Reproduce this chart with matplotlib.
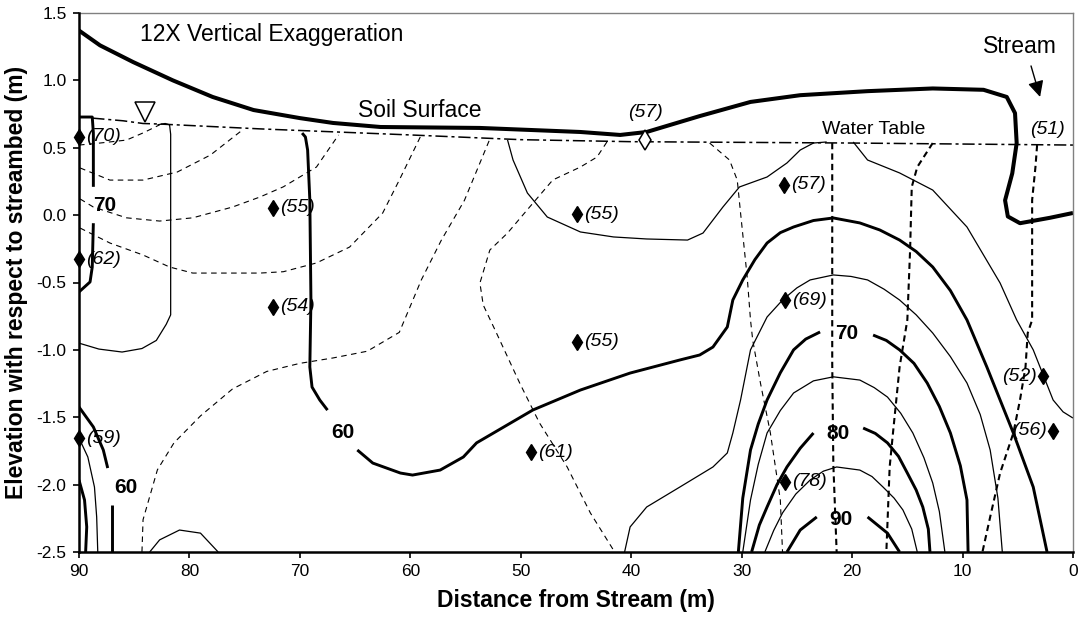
import matplotlib
matplotlib.use("Agg")
import matplotlib.pyplot as plt

plt.rcParams['font.family'] = ['Liberation Sans', 'DejaVu Sans']
plt.rcParams['axes.unicode_minus'] = False

# traced lines, (distance from stream m, elevation m)
soil_surface = [(90, 1.37), (88.1, 1.26), (85.1, 1.136), (81.5, 1.0), (77.9, 0.877),
                (74.2, 0.78), (70.0, 0.72), (67.0, 0.684), (62.7, 0.654), (53.7, 0.647),
                (44.6, 0.617), (41.0, 0.595), (38.6, 0.617), (37.1, 0.654), (33.8, 0.735),
                (29.2, 0.84), (24.7, 0.89), (18.6, 0.92), (12.7, 0.94), (8.1, 0.93),
                (6.0, 0.877), (5.25, 0.757), (5.1, 0.535), (5.5, 0.31), (6.15, 0.11),
                (5.9, -0.01), (4.8, -0.06), (2.1, -0.02), (0, 0.016)]
water_table = [(88.8, 0.72), (86.0, 0.70), (84.2, 0.68), (82.7, 0.676), (73.6, 0.64),
               (60.0, 0.595), (50.0, 0.56), (40.0, 0.545), (20.0, 0.535), (0, 0.52)]

# thick contours (60 / 70 / 80 / 90)
c70_left_top = [(90, 0.728), (88.8, 0.728), (88.7, 0.61), (88.7, 0.21)]
c70_left_bot = [(88.7, -0.06), (88.8, -0.385), (89.0, -0.496), (90, -0.57)]
c60_main_a = [(69.8, 0.609), (69.5, 0.58), (69.3, 0.483), (69.1, 0.112), (69.0, -0.63),
              (69.1, -1.127), (68.9, -1.276), (68.2, -1.372), (67.5, -1.447)]
c60_main_b = [(64.8, -1.743), (63.4, -1.84), (60.9, -1.914), (59.8, -1.929), (57.3, -1.892),
              (55.2, -1.795), (54.0, -1.69), (53.1, -1.647), (48.9, -1.446), (44.6, -1.298),
              (40.1, -1.172), (35.6, -1.075), (33.8, -1.038), (32.6, -0.979), (31.3, -0.83),
              (30.8, -0.63), (29.9, -0.481), (28.8, -0.33), (27.7, -0.207), (26.5, -0.13),
              (25.3, -0.088), (23.5, -0.04), (21.7, -0.021), (19.3, -0.058), (17.5, -0.11),
              (15.7, -0.185), (14.2, -0.27), (12.7, -0.385), (11.1, -0.56), (9.6, -0.778),
              (7.8, -1.127), (5.4, -1.617), (3.6, -2.018), (2.35, -2.5)]
c60_corner_a = [(90, -1.424), (88.7, -1.572), (87.8, -1.743), (87.4, -1.877)]
c60_corner_b = [(87.0, -2.15), (87.0, -2.5)]
c60_corner_c = [(90, -1.966), (89.5, -2.114), (89.3, -2.314), (89.4, -2.5)]
c70_dome_a = [(30.3, -2.5), (29.9, -2.1), (29.2, -1.743), (28.5, -1.55), (27.7, -1.372),
              (26.5, -1.17), (25.3, -1.0), (24.2, -0.92), (22.9, -0.867)]
c70_dome_b = [(18.1, -0.89), (16.9, -0.93), (15.7, -1.0), (14.4, -1.1), (13.2, -1.246),
              (12.1, -1.42), (11.1, -1.617), (10.2, -1.86), (9.6, -2.114), (9.5, -2.5)]
c80_dome_a = [(29.1, -2.5), (28.4, -2.3), (27.7, -2.166), (26.8, -2.0), (25.9, -1.869),
              (24.7, -1.73), (23.5, -1.617)]
c80_dome_b = [(19.0, -1.58), (17.9, -1.62), (16.8, -1.69), (15.8, -1.79), (15.0, -1.914),
              (14.2, -2.04), (13.6, -2.166), (13.1, -2.33), (12.95, -2.5)]
c90_dome_a = [(25.9, -2.5), (24.7, -2.337), (23.2, -2.24)]
c90_dome_b = [(18.6, -2.24), (16.8, -2.36), (15.7, -2.5)]

# thin solid contours
thin_left = [(82.9, 0.67), (82.2, 0.68), (81.8, 0.67), (81.7, 0.6), (81.7, -0.74),
             (82.1, -0.81), (83.0, -0.93), (84.3, -0.99), (86.1, -1.016), (88.2, -0.994),
             (90, -0.95)]
thin_corner = [(90, -1.654), (89.2, -1.795), (88.6, -2.018), (88.4, -2.24), (88.3, -2.5)]
thin_bump = [(83.6, -2.5), (82.7, -2.41), (80.9, -2.337), (79.0, -2.36), (77.4, -2.5)]
thin_mid = [(51.2, 0.558), (50.7, 0.409), (49.4, 0.164), (47.6, -0.014), (44.6, -0.125),
            (41.6, -0.162), (38.6, -0.177), (34.9, -0.185), (33.5, -0.133), (31.7, 0.06),
            (30.2, 0.209), (27.7, 0.283), (25.9, 0.387), (24.7, 0.483), (23.5, 0.535),
            (22.3, 0.543)]
thin_right = [(19.9, 0.543), (18.6, 0.409), (15.7, 0.313), (12.7, 0.186), (9.6, -0.088),
              (6.6, -0.504), (5.1, -0.778), (3.6, -1.0), (1.8, -1.372), (0.9, -1.46),
              (0, -1.506)]
thin_65 = [(40.6, -2.5), (40.1, -2.314), (38.6, -2.166), (35.6, -2.018), (32.6, -1.869),
           (31.3, -1.765), (30.8, -1.617), (30.1, -1.372), (29.2, -1.0), (27.7, -0.756),
           (26.3, -0.63), (25.0, -0.54), (23.8, -0.481), (21.7, -0.444), (20.1, -0.455),
           (18.6, -0.481), (17.1, -0.55), (15.7, -0.63), (14.2, -0.74), (12.7, -0.875),
           (11.1, -1.05), (9.6, -1.246), (8.4, -1.48), (7.5, -1.743), (6.8, -2.1),
           (6.4, -2.5)]
thin_75 = [(29.9, -2.5), (29.2, -2.114), (28.5, -1.85), (27.7, -1.617), (26.5, -1.45),
           (25.3, -1.32), (23.5, -1.23), (21.7, -1.2), (19.3, -1.224), (18.0, -1.28),
           (16.8, -1.35), (15.6, -1.47), (14.5, -1.617), (13.5, -1.8), (12.7, -1.988),
           (12.1, -2.2), (11.6, -2.5)]
thin_85 = [(27.9, -2.5), (27.1, -2.34), (26.3, -2.21), (25.1, -2.07), (23.8, -1.966),
           (22.6, -1.9), (21.4, -1.869), (19.3, -1.892), (18.2, -1.94), (17.2, -2.018),
           (16.2, -2.1), (15.4, -2.188), (14.6, -2.33), (14.1, -2.5)]

# thin dashed lines
dash_a = [(90, 0.52), (88.1, 0.535), (85.7, 0.557), (84.2, 0.61), (82.7, 0.67)]
dash_b = [(89.9, 0.35), (87.2, 0.26), (84.2, 0.26), (81.1, 0.32), (78.1, 0.446), (75.2, 0.632)]
dash_c = [(89.9, 0.12), (88.7, 0.06), (85.7, -0.02), (82.7, -0.044), (79.7, -0.02),
          (76.1, 0.06), (73.6, 0.135), (71.5, 0.21), (68.5, 0.357), (66.5, 0.595)]
dash_d = [(89.9, -0.096), (87.2, -0.207), (84.2, -0.296), (81.8, -0.385), (79.7, -0.43),
          (73.6, -0.43), (71.5, -0.42), (68.5, -0.355), (65.5, -0.237), (62.5, 0.016),
          (61.0, 0.26), (59.1, 0.58)]
dash_e = [(84.3, -2.5), (84.2, -2.26), (82.9, -1.89), (81.4, -1.69), (79.0, -1.49),
          (76.1, -1.29), (73.0, -1.16), (70.0, -1.1), (67.0, -1.06), (63.9, -1.01),
          (61.0, -0.87), (59.0, -0.48), (57.2, -0.187), (55.1, 0.11), (52.8, 0.565)]
dash_f = [(42.2, 0.543), (43.1, 0.431), (44.6, 0.357), (47.1, 0.261), (49.2, 0.06),
          (51.2, -0.133), (52.8, -0.259), (53.7, -0.504), (53.4, -0.667), (52.2, -0.875),
          (50.1, -1.246), (48.3, -1.543), (45.8, -1.869), (43.7, -2.21), (41.5, -2.5)]
dash_g = [(32.9, 0.535), (31.1, 0.409), (30.4, 0.26), (30.1, 0.016), (29.5, -0.459),
          (29.2, -0.778), (29.0, -0.927), (28.3, -1.246), (27.4, -1.617), (26.5, -2.114),
          (26.3, -2.5)]
# heavier dashed lines
dash_center = [(21.8, 0.535), (21.8, -0.2), (21.8, -1.1), (21.7, -1.85), (21.4, -2.5)]
dash_h = [(12.7, 0.535), (14.1, 0.357), (14.6, 0.209), (14.75, -0.259), (15.0, -0.778),
          (15.7, -1.127), (16.3, -1.617), (16.6, -1.869), (16.9, -2.5)]
dash_i = [(3.25, 0.52), (3.4, 0.357), (3.7, 0.112), (3.7, -0.778), (4.1, -0.875),
          (4.3, -1.127), (4.8, -1.372), (5.4, -1.617), (6.6, -1.914), (7.5, -2.24),
          (8.2, -2.5)]

# sampling points and measured values
pt_dist = [90, 90, 90, 72.4, 72.4, 44.9, 44.9, 49.1, 26.2, 26.1, 26.1, 2.7, 1.8]
pt_elev = [0.58, -0.326, -1.654, 0.053, -0.68, 0.008, -0.94, -1.758, 0.224, -0.63, -1.98,
           -1.194, -1.602]
pt_vals = [70, 62, 59, 55, 54, 55, 55, 61, 57, 69, 78, 52, 56]
pt_left = [False] * 11 + [True, True]

# contour labels
lab_dist = [87.65, 66.1, 85.8, 20.5, 21.3, 21.0]
lab_elev = [0.068, -1.61, -2.025, -0.88, -1.617, -2.26]
lab_text = ['70', '60', '60', '70', '80', '90']

fig = plt.figure(figsize=(10.78, 6.2), dpi=100)
ax = fig.add_axes([79 / 1078, 1 - 552 / 620, 994 / 1078, 539 / 620])


def draw(pts, **kw):
    xs = [p[0] for p in pts]
    ys = [p[1] for p in pts]
    ax.plot(xs, ys, color='black', solid_capstyle='butt', solid_joinstyle='round', **kw)


for line in [c70_left_top, c70_left_bot, c60_main_a, c60_main_b, c60_corner_a,
             c60_corner_b, c60_corner_c, c70_dome_a, c70_dome_b, c80_dome_a,
             c80_dome_b, c90_dome_a, c90_dome_b]:
    draw(line, lw=2.1)
for line in [thin_left, thin_corner, thin_bump, thin_mid, thin_right, thin_65,
             thin_75, thin_85]:
    draw(line, lw=0.9)
for line in [dash_a, dash_b, dash_c, dash_d, dash_e, dash_f, dash_g]:
    draw(line, lw=0.8, ls=(0, (5, 4)))
for line in [dash_center, dash_h, dash_i]:
    draw(line, lw=1.5, ls=(0, (3, 2)))

draw(water_table, lw=1.1, ls=(0, (8, 2.5, 2, 2.5)))
draw(soil_surface, lw=2.9)

# measured points
for d, e, v, left in zip(pt_dist, pt_elev, pt_vals, pt_left):
    ax.plot(d, e, marker='d', ms=8.5, color='black', clip_on=False, zorder=5)
    if left:
        ax.text(d + 0.55, e, f'({v})', ha='right', va='center', fontsize=14,
                style='italic')
    else:
        ax.text(d - 0.65, e, f'({v})', ha='left', va='center', fontsize=14,
                style='italic')

# open symbol on the water table
ax.plot(38.75, 0.557, marker='d', ms=10, mfc='white', mec='black', mew=1.1, zorder=6)
ax.text(38.75, 0.76, '(57)', ha='center', va='center', fontsize=14, style='italic')
ax.text(2.35, 0.632, '(51)', ha='center', va='center', fontsize=14, style='italic')

for d, e, t in zip(lab_dist, lab_elev, lab_text):
    ax.text(d, e, t, ha='center', va='center', fontsize=15, fontweight='bold')

# water table symbol
ax.plot(84.0, 0.765, marker='v', ms=15, mfc='white', mec='black', mew=1.1, zorder=6)

ax.text(84.48, 1.337, '12X Vertical Exaggeration', ha='left', va='center', fontsize=16.5)
ax.text(64.74, 0.773, 'Soil Surface', ha='left', va='center', fontsize=16.5)
ax.text(22.72, 0.632, 'Water Table', ha='left', va='center', fontsize=14)
ax.text(8.15, 1.248, 'Stream', ha='left', va='center', fontsize=16.5)
ax.annotate('', xy=(2.98, 0.877), xytext=(3.8, 1.107),
            arrowprops=dict(arrowstyle='-|>', color='black', lw=1.0,
                            mutation_scale=24, shrinkA=0, shrinkB=0))

ax.set_xlim(90, 0)
ax.set_ylim(-2.5, 1.5)
ax.set_xticks(range(90, -1, -10))
ax.set_yticks([1.5, 1.0, 0.5, 0.0, -0.5, -1.0, -1.5, -2.0, -2.5])
ax.yaxis.set_major_formatter(matplotlib.ticker.FormatStrFormatter('%.1f'))
ax.tick_params(direction='out', length=4, width=1.2, labelsize=12.5, pad=5)

for side in ['left', 'bottom']:
    ax.spines[side].set_linewidth(1.8)
    ax.spines[side].set_zorder(10)
for side in ['top', 'right']:
    ax.spines[side].set_linewidth(1.0)
    ax.spines[side].set_color('#808080')

ax.set_xlabel('Distance from Stream (m)', fontsize=16.5, fontweight='bold', labelpad=7)
ax.set_ylabel('Elevation with respect to streambed (m)', fontsize=16.5,
              fontweight='bold', labelpad=6)

fig.savefig('out.png', dpi=100)
